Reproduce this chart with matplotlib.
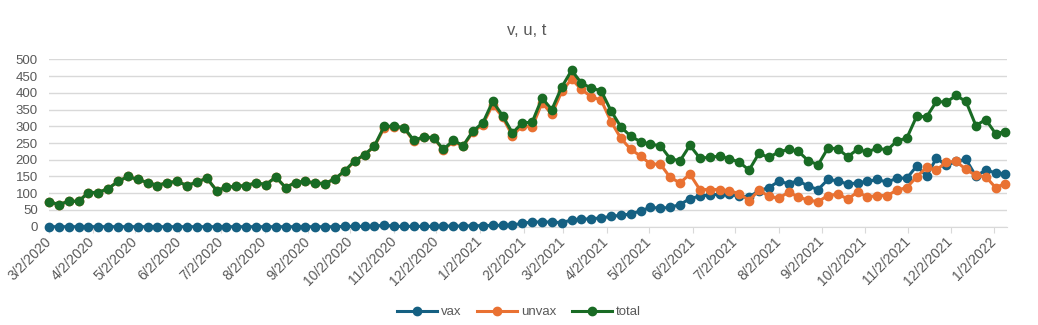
import datetime as dt
import matplotlib
matplotlib.use("Agg")
import matplotlib.pyplot as plt

plt.rcParams['font.family'] = ['Liberation Sans', 'DejaVu Sans']

# weekly values starting 3/2/2020
start = dt.date(2020, 3, 2)

total = [75, 66, 76, 76, 102, 102, 114, 135, 150, 141,
         132, 123, 132, 135, 123, 133, 145, 108, 118, 121,
         123, 131, 126, 148, 117, 132, 136, 130, 129, 143,
         167, 197, 215, 241, 300, 300, 296, 258, 268, 266,
         231, 258, 242, 286, 310, 374, 332, 280, 310, 312,
         384, 350, 417, 467, 429, 414, 406, 346, 298, 270,
         254, 246, 242, 203, 197, 243, 205, 207, 211, 203,
         193, 169, 219, 207, 223, 231, 225, 197, 185, 235,
         233, 209, 231, 223, 235, 229, 256, 265, 330, 328,
         374, 372, 392, 374, 302, 320, 278, 284]

vax = [0, 0, 0, 0, 0, 0, 0, 0, 0, 0,
       0, 0, 0, 0, 0, 0, 0, 0, 0, 0,
       0, 0, 0, 0, 0, 0, 0, 0, 0, 0,
       1, 1, 1, 1, 5, 1, 1, 1, 1, 1,
       2, 2, 2, 3, 3, 4, 4, 5, 10, 14,
       14, 14, 12, 20, 22, 24, 26, 31, 34, 38,
       47, 58, 55, 58, 66, 84, 91, 95, 97, 97,
       91, 89, 107, 117, 135, 129, 137, 121, 111, 141,
       137, 127, 131, 135, 141, 133, 145, 145, 181, 151,
       205, 183, 195, 201, 151, 169, 161, 157]

unvax = [75, 66, 76, 76, 102, 102, 114, 135, 150, 141,
         132, 123, 132, 135, 123, 133, 145, 108, 118, 121,
         123, 131, 126, 148, 117, 132, 136, 130, 129, 143,
         166, 196, 214, 240, 295, 299, 295, 255, 267, 265,
         229, 255, 240, 283, 305, 365, 327, 272, 302, 298,
         370, 336, 404, 441, 410, 388, 378, 314, 264, 231,
         211, 187, 187, 147, 131, 157, 111, 111, 111, 107,
         99, 78, 109, 91, 85, 103, 89, 79, 75, 93,
         97, 83, 103, 89, 93, 93, 109, 117, 149, 177,
         169, 193, 195, 171, 153, 149, 117, 129]

dates = [start + dt.timedelta(weeks=i) for i in range(len(total))]

tick_dates = []
y, m = 2020, 3
while dt.date(y, m, 2) <= dates[-1]:
    tick_dates.append(dt.date(y, m, 2))
    m += 1
    if m > 12:
        m = 1
        y += 1
tick_labels = [f"{d.month}/{d.day}/{d.year}" for d in tick_dates]

gray = "#595959"
grid = "#D9D9D9"

fig = plt.figure(figsize=(10.38, 3.25), dpi=100)
ax = fig.add_axes([0.0472, 0.3025, 0.9228, 0.515])

series = [("vax", vax, "#156082"), ("unvax", unvax, "#E97132"), ("total", total, "#196B24")]
for name, vals, col in series:
    ax.plot(dates, vals, color=col, lw=2.2, marker="o", ms=6,
            label=name, clip_on=False, zorder=3)

ax.set_ylim(0, 500)
ax.set_yticks(range(0, 501, 50))
ax.set_xlim(dates[0], dates[-1] + dt.timedelta(days=1))
ax.set_xticks(tick_dates)
ax.set_xticklabels(tick_labels, rotation=45, ha="right", va="center",
                   rotation_mode="anchor")

ax.grid(axis="y", color=grid, lw=1)
ax.set_axisbelow(True)
for s in ["left", "right", "top"]:
    ax.spines[s].set_visible(False)
ax.spines["bottom"].set_color(grid)
ax.tick_params(axis="y", length=0, labelsize=9.5, labelcolor=gray, pad=8)
ax.tick_params(axis="x", length=4, color=grid, labelsize=10, labelcolor=gray, pad=5)

fig.suptitle("v, u, t", x=0.507, y=0.93, fontsize=12, color=gray)
fig.legend(loc="center", bbox_to_anchor=(0.5, 0.04), ncol=3, frameon=False,
           fontsize=9.5, labelcolor=gray, handlelength=3, columnspacing=1.2,
           handletextpad=0.3)

fig.savefig("out.png", dpi=100)
